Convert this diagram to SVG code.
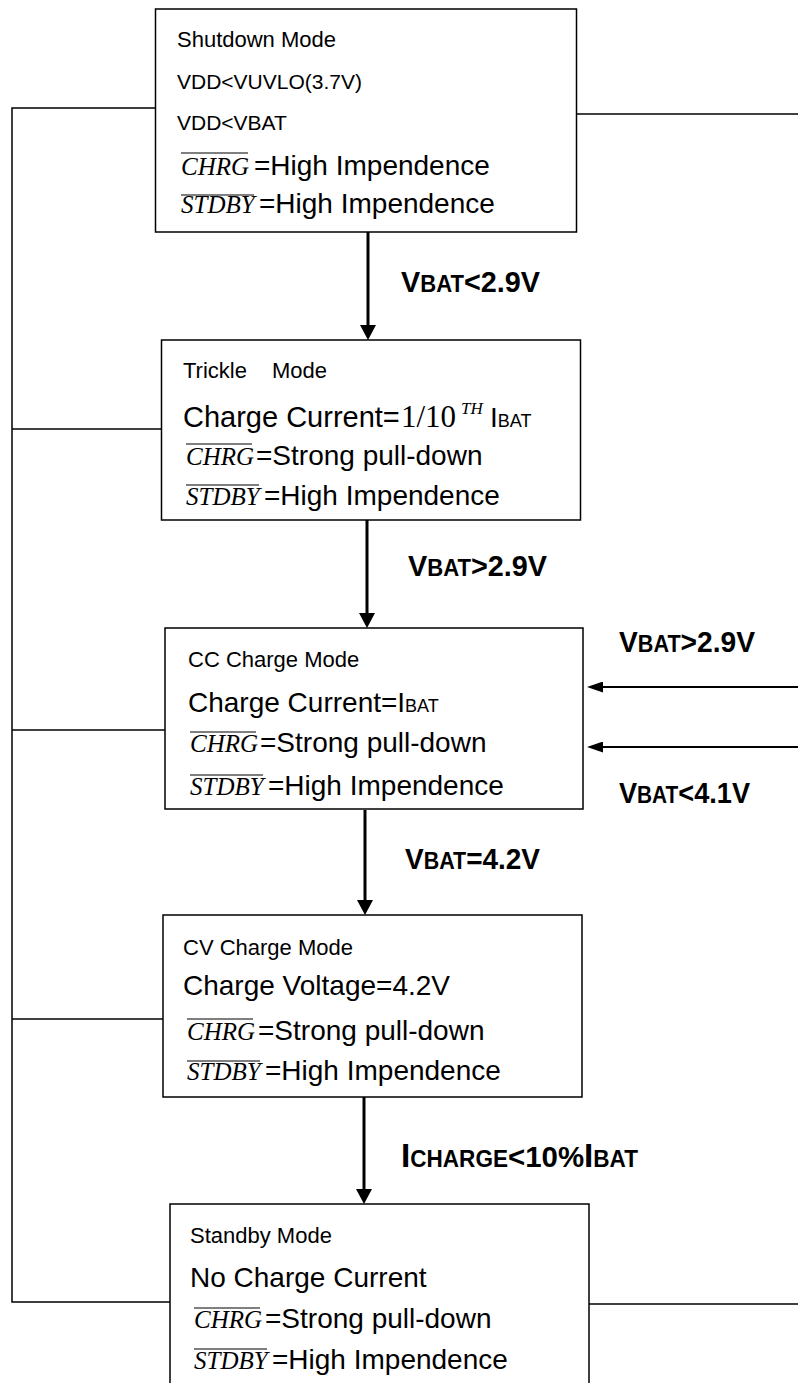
<svg xmlns="http://www.w3.org/2000/svg" width="798" height="1383" viewBox="0 0 798 1383">
<style>
  .box { fill: #ffffff; stroke: #000000; stroke-width: 1.5; }
  .wire { fill: none; stroke: #000000; stroke-width: 1.5; }
  .flow { fill: none; stroke: #000000; stroke-width: 3; }
  .side { fill: none; stroke: #000000; stroke-width: 2.2; }
  .ovl { stroke: #000000; stroke-width: 1.2; }
  .t { font-family: "Liberation Sans", Arial, sans-serif; fill: #000000; }
  .title { font-size: 22px; }
  .sm { font-size: 21px; }
  .big { font-size: 28px; }
  .sig { font-family: "Liberation Serif", "Times New Roman", serif; font-style: italic; font-size: 25px; fill: #000000; }
  .lbl { font-family: "Liberation Sans", Arial, sans-serif; font-weight: bold; font-size: 30px; fill: #000000; }
</style>
<defs>
  <marker id="headDown" viewBox="0 0 15 16" refX="0" refY="8" markerWidth="15" markerHeight="16" markerUnits="userSpaceOnUse" orient="auto">
    <path d="M0,0 L15,8 L0,16 Z" fill="#000000"/>
  </marker>
  <marker id="headSide" viewBox="0 0 16 11" refX="0" refY="5.5" markerWidth="16" markerHeight="11" markerUnits="userSpaceOnUse" orient="auto">
    <path d="M0,0 L16,5.5 L0,11 Z" fill="#000000"/>
  </marker>
</defs>
<rect x="0" y="0" width="798" height="1383" fill="#ffffff"/>

<g id="connectors">
  <polyline class="wire" points="155,108 12,108 12,1302 170,1302"/>
  <line class="wire" x1="12" y1="429" x2="161" y2="429"/>
  <line class="wire" x1="12" y1="730" x2="165" y2="730"/>
  <line class="wire" x1="12" y1="1019" x2="163" y2="1019"/>
  <line class="wire" x1="576" y1="114" x2="798" y2="114"/>
  <line class="wire" x1="589" y1="1304" x2="798" y2="1304"/>
  <line class="side" x1="798" y1="687" x2="603" y2="687" marker-end="url(#headSide)"/>
  <line class="side" x1="798" y1="747" x2="603" y2="747" marker-end="url(#headSide)"/>
  <line class="flow" x1="368" y1="232" x2="368" y2="325" marker-end="url(#headDown)"/>
  <line class="flow" x1="367" y1="520" x2="367" y2="613" marker-end="url(#headDown)"/>
  <line class="flow" x1="365" y1="810" x2="365" y2="900" marker-end="url(#headDown)"/>
  <line class="flow" x1="364" y1="1097" x2="364" y2="1189" marker-end="url(#headDown)"/>
  <text class="lbl" x="401" y="292" textLength="139" lengthAdjust="spacingAndGlyphs">V<tspan font-size="23">BAT</tspan>&lt;2.9V</text>
  <text class="lbl" x="408" y="576" textLength="139" lengthAdjust="spacingAndGlyphs">V<tspan font-size="23">BAT</tspan>&gt;2.9V</text>
  <text class="lbl" x="619" y="652" textLength="136" lengthAdjust="spacingAndGlyphs">V<tspan font-size="23">BAT</tspan>&gt;2.9V</text>
  <text class="lbl" x="619" y="803" textLength="131" lengthAdjust="spacingAndGlyphs">V<tspan font-size="23">BAT</tspan>&lt;4.1V</text>
  <text class="lbl" x="405" y="869" textLength="135" lengthAdjust="spacingAndGlyphs">V<tspan font-size="23">BAT</tspan>=4.2V</text>
  <text class="lbl" x="401" y="1167" textLength="237" lengthAdjust="spacingAndGlyphs"><tspan font-size="34">I</tspan><tspan font-size="23">CHARGE</tspan>&lt;10%<tspan font-size="34">I</tspan><tspan font-size="23">BAT</tspan></text>
</g>

<g id="shutdown">
  <rect class="box" x="155.5" y="9" width="421" height="223"/>
  <text class="t title" x="177" y="47">Shutdown Mode</text>
  <text class="t sm" x="177" y="89">VDD&lt;VUVLO(3.7V)</text>
  <text class="t sm" x="177" y="130">VDD&lt;VBAT</text>
  <text class="sig" x="181" y="175">CHRG</text>
  <line class="ovl" x1="181" y1="153" x2="248" y2="153"/>
  <text class="t big" x="254" y="175">=High Impendence</text>
  <text class="sig" x="181" y="213">STDBY</text>
  <line class="ovl" x1="181" y1="195" x2="254" y2="195"/>
  <text class="t big" x="259" y="213">=High Impendence</text>
</g>

<g id="trickle">
  <rect class="box" x="161.5" y="340" width="419" height="180"/>
  <text class="t title" x="183" y="378">Trickle<tspan x="272">Mode</tspan></text>
  <text class="t" font-size="29" x="183" y="427">Charge Current=</text>
  <text x="401" y="427" font-family="Liberation Serif, Times New Roman, serif" font-size="31" fill="#000000">1/10</text>
  <text x="461" y="414" font-family="Liberation Serif, Times New Roman, serif" font-style="italic" font-size="17" fill="#000000">TH</text>
  <text class="t big" x="490" y="427">I<tspan font-size="18">BAT</tspan></text>
  <text class="sig" x="186" y="465">CHRG</text>
  <line class="ovl" x1="186" y1="444" x2="252" y2="444"/>
  <text class="t big" x="256" y="465">=Strong pull-down</text>
  <text class="sig" x="186" y="505">STDBY</text>
  <line class="ovl" x1="186" y1="485" x2="259" y2="485"/>
  <text class="t big" x="264" y="505">=High Impendence</text>
</g>

<g id="cc-charge">
  <rect class="box" x="165" y="628" width="418" height="181"/>
  <text class="t title" x="188" y="667">CC Charge Mode</text>
  <text class="t big" x="188" y="712">Charge Current=I<tspan font-size="18">BAT</tspan></text>
  <text class="sig" x="190" y="752">CHRG</text>
  <line class="ovl" x1="190" y1="732" x2="256" y2="732"/>
  <text class="t big" x="260" y="752">=Strong pull-down</text>
  <text class="sig" x="190" y="795">STDBY</text>
  <line class="ovl" x1="190" y1="775" x2="263" y2="775"/>
  <text class="t big" x="268" y="795">=High Impendence</text>
</g>

<g id="cv-charge">
  <rect class="box" x="163" y="915" width="419" height="182"/>
  <text class="t title" x="183" y="955">CV Charge Mode</text>
  <text class="t big" x="183" y="995">Charge Voltage=4.2V</text>
  <text class="sig" x="187" y="1040">CHRG</text>
  <line class="ovl" x1="187" y1="1019" x2="253" y2="1019"/>
  <text class="t big" x="258" y="1040">=Strong pull-down</text>
  <text class="sig" x="187" y="1080">STDBY</text>
  <line class="ovl" x1="187" y1="1061" x2="260" y2="1061"/>
  <text class="t big" x="265" y="1080">=High Impendence</text>
</g>

<g id="standby">
  <rect class="box" x="170" y="1204" width="419" height="220"/>
  <text class="t title" x="190" y="1243">Standby Mode</text>
  <text class="t big" x="190" y="1287">No Charge Current</text>
  <text class="sig" x="194" y="1328">CHRG</text>
  <line class="ovl" x1="194" y1="1308" x2="260" y2="1308"/>
  <text class="t big" x="265" y="1328">=Strong pull-down</text>
  <text class="sig" x="194" y="1369">STDBY</text>
  <line class="ovl" x1="194" y1="1349" x2="267" y2="1349"/>
  <text class="t big" x="272" y="1369">=High Impendence</text>
</g>
</svg>
